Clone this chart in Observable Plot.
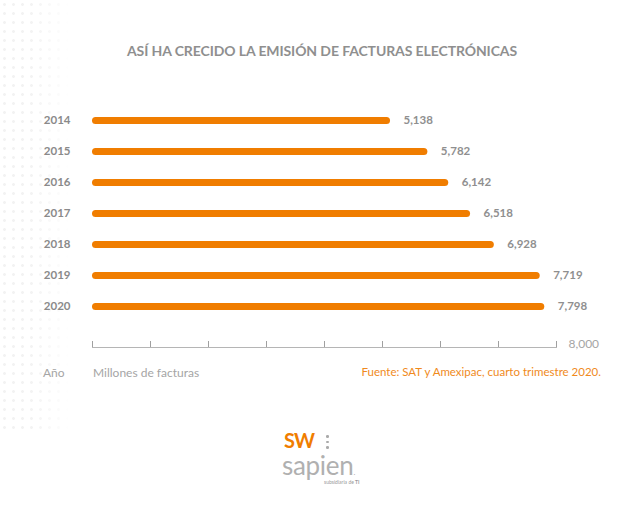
<!DOCTYPE html>
<html>
<head>
<meta charset="utf-8">
<script src="https://cdn.jsdelivr.net/npm/d3@7"></script>
<script src="https://cdn.jsdelivr.net/npm/@observablehq/plot@0.6"></script>
<style>
  html, body { margin: 0; padding: 0; background: #fff; }
  #wrap { position: relative; width: 644px; height: 525px; overflow: hidden; font-family: Lato, "Open Sans", sans-serif; }
  #dots { position: absolute; left: 0; top: 0; width: 70px; height: 430px;
    background-image: radial-gradient(circle, rgba(0,0,0,0.05) 1.2px, transparent 1.6px);
    background-size: 9px 9px; 
    -webkit-mask-image: linear-gradient(to right, #000 40%, transparent);
    mask-image: linear-gradient(to right, #000 40%, transparent); }
  #title { position: absolute; left: 0; width: 644px; top: 42px; text-align: center; font-size: 14px; font-weight: 700; color: #8f8f8f; letter-spacing: -0.1px; }
  #chart { position: absolute; left: 0; top: 0; }
  .foot { position: absolute; top: 365px; font-size: 12px; color: #a5a5a5; }
  #src { right: 43px; color: #f08a1c; font-size: 11.5px; }
  #logo { position: absolute; left: 282px; top: 428px; width: 90px; height: 60px; }
  #sw { position: absolute; left: 2px; top: 1px; font-size: 20px; line-height: 22px; font-weight: 700; color: #f07d00; letter-spacing: -1px; }
  #sap { position: absolute; left: 0; top: 23px; font-size: 26px; line-height: 28px; font-weight: 400; color: #b0b0b0; letter-spacing: -0.3px; }
  #sub { position: absolute; left: 42px; top: 51px; font-size: 5px; line-height: 6px; color: #999; }
  #vd { position: absolute; left: 44px; top: 7px; width: 3px; }
  #vd span { display: block; width: 2.5px; height: 2.5px; background: #aaa; border-radius: 50%; margin-bottom: 3px; }
</style>
</head>
<body>
<div id="wrap">
  <div id="dots"></div>
  <div id="chart"></div>
  <div id="title">ASÍ HA CRECIDO LA EMISIÓN DE FACTURAS ELECTRÓNICAS</div>
  <div class="foot" style="left:43px">Año</div>
  <div class="foot" style="left:93px">Millones de facturas</div>
  <div class="foot" id="src">Fuente: SAT y Amexipac, cuarto trimestre 2020.</div>
  <div id="logo">
    <div id="sw">SW</div>
    <div id="vd"><span></span><span></span><span></span></div>
    <div id="sap">sapien<span style="font-size:8px">.</span></div>
    <div id="sub">subsidiaria de <b>TI</b></div>
  </div>
</div>
<script>
const years = ["2014", "2015", "2016", "2017", "2018", "2019", "2020"];
const values = [5138, 5782, 6142, 6518, 6928, 7719, 7798];
const xMax = 8000;
const tickStep = 1000;

const data = years.map((y, i) => ({year: y, value: values[i]}));
const orange = "#f07d00";
const fmt = d3.format(",");
const ticks = d3.range(0, xMax + 1, tickStep);

const H = 525, MT = 119, MB = 178, BW = 7;
const chart = Plot.plot({
  width: 644,
  height: H,
  marginLeft: 92,
  marginRight: 88,
  marginTop: MT,
  marginBottom: MB,
  style: {fontFamily: "Lato, 'Open Sans', sans-serif", background: "transparent", overflow: "visible"},
  x: {domain: [0, xMax], axis: null},
  y: {type: "point", domain: years, range: [MT, 307.5], padding: 0, axis: null},
  marks: [
    Plot.axisY({tickSize: 0, tickPadding: 22, fontSize: 11.5, fontWeight: 700, fill: "#8a8a8a", label: null}),
    Plot.ruleY(data, {x1: 0, x2: "value", y: "year", stroke: orange, strokeWidth: BW, strokeLinecap: "round", insetLeft: BW / 2, insetRight: BW / 2}),
    Plot.text(data, {x: "value", y: "year", text: d => fmt(d.value), dx: 13, textAnchor: "start", fontSize: 11.5, fontWeight: 700, fill: "#8f8f8f"}),
    Plot.tickX(ticks, {x: d => d, stroke: "#a0a0a0", strokeWidth: 1, insetTop: (H - MT - MB) - 6}),
    Plot.frame({anchor: "bottom", stroke: "#b5b5b5"}),
    Plot.text([xMax], {x: d => d, frameAnchor: "bottom", text: d => fmt(d), dx: 12, dy: 0, textAnchor: "start", fontSize: 12, fill: "#a5a5a5"})
  ]
});
document.getElementById("chart").appendChild(chart);
</script>
</body>
</html>
